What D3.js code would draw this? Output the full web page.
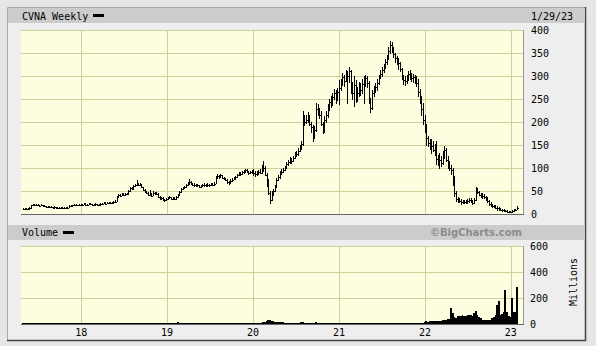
<!DOCTYPE html>
<html>
<head>
<meta charset="utf-8">
<script src="https://cdn.jsdelivr.net/npm/d3@7"></script>
<style>
  body { margin: 0; background: #e6e6e6; }
  svg { display: block; }
  text { font-family: "DejaVu Sans Mono", monospace; font-size: 10px; fill: #000; }
</style>
</head>
<body>
<div id="chart"></div>
<script>
// weekly bars, the first one is the week ending 2017-04-28
const firstWeek = "2017-04-28";
const chartTitle = "CVNA Weekly";
const lastDateLabel = "1/29/23";
const yearLabels = ["18", "19", "20", "21", "22", "23"];
const priceTicks = [0, 50, 100, 150, 200, 250, 300, 350, 400];
const volumeTicks = [0, 200, 400, 600];

const weekHigh = [
  // 2017
  12.5, 12.0, 12.5, 12.3, 13.5, 19.5, 21.0, 21.5, 20.5, 19.8,
  19.2, 19.8, 19.0, 17.5, 16.8, 15.5, 16.2, 16.0, 15.2, 15.3,
  14.8, 14.5, 14.0, 13.8, 13.8, 13.5, 13.8, 14.3, 17.5, 18.2,
  19.3, 21.0, 20.5, 19.5, 20.2, 21.0,
  // 2018
  21.5, 22.0, 21.8, 21.2, 22.3, 22.5, 21.2, 21.5, 22.0, 21.2,
  21.0, 22.0, 23.2, 24.5, 24.0, 24.2, 25.2, 26.0, 26.0, 27.2,
  28.5, 39.0, 43.0, 42.0, 44.0, 43.5, 44.5, 45.5, 51.5, 57.5,
  57.0, 62.0, 65.0, 72.0, 67.0, 66.0, 64.0, 58.5, 53.0, 49.0,
  46.0, 52.0, 45.0, 48.5, 47.5, 46.5, 43.5, 38.5, 36.0, 35.0,
  32.0, 34.0,
  // 2019
  36.5, 38.0, 36.5, 36.0, 35.0, 38.5, 43.0, 50.0, 55.5, 58.0,
  60.0, 64.0, 68.0, 74.0, 71.0, 67.0, 66.0, 64.0, 65.0, 63.0,
  62.0, 64.0, 65.5, 64.0, 66.0, 65.0, 66.0, 65.5, 68.0, 81.0,
  85.0, 83.0, 86.0, 84.0, 80.0, 78.0, 75.0, 71.0, 74.0, 77.0,
  79.0, 82.0, 86.0, 90.0, 90.0, 93.0, 95.0, 97.0, 96.0, 93.0,
  93.0, 95.0,
  // 2020
  97, 93, 92, 95, 96, 106, 114, 103, 88, 74,
  50, 48, 54, 63, 78, 84, 92, 96, 100, 104,
  112, 117, 122, 121, 126, 133, 136, 142, 148, 158,
  222, 215, 214, 220, 214, 200, 192, 190, 241, 238,
  230, 222, 200, 212, 222, 238, 250, 255, 262, 270,
  268, 272,
  // 2021
  290, 292, 305, 302, 312, 310, 318, 312, 285, 300,
  290, 275, 285, 284, 292, 300, 302, 300, 288, 252,
  268, 278, 283, 292, 302, 312, 318, 326, 335, 345,
  362, 376, 372, 362, 350, 342, 338, 330, 316, 302,
  298, 302, 310, 312, 305, 304, 302, 298, 292, 270,
  255, 240,
  // 2022
  215, 195, 168, 162, 161, 158, 152, 157, 128, 132,
  124, 135, 146, 142, 124, 115, 105, 98, 81, 48,
  36, 34, 32, 30, 30, 29, 31, 34, 33, 29,
  33, 58, 56, 50, 44, 44, 42, 38, 36, 30,
  24, 21, 19, 18, 16, 15, 12, 10, 9, 8,
  7, 6, 5.5,
  // 2023
  7, 9, 10.5, 16
];

const weekLow = [
  // 2017
  10.5, 10.2, 10.8, 10.9, 11.3, 12.3, 18.2, 19.0, 18.2, 17.8,
  17.2, 17.5, 17.2, 16.0, 14.8, 14.0, 14.3, 14.7, 13.8, 13.8,
  13.4, 13.0, 12.6, 12.2, 12.3, 12.0, 12.2, 12.8, 13.2, 16.2,
  17.2, 18.2, 18.6, 17.8, 18.0, 19.0,
  // 2018
  19.5, 20.0, 19.8, 19.0, 19.8, 20.5, 19.5, 19.8, 20.2, 19.0,
  19.2, 19.8, 20.8, 22.0, 22.0, 22.2, 23.0, 24.0, 23.8, 24.3,
  25.8, 27.0, 37.5, 39.0, 40.0, 40.5, 41.0, 42.5, 44.0, 50.0,
  52.5, 54.0, 59.5, 62.5, 62.0, 61.5, 57.0, 51.0, 46.5, 43.5,
  40.5, 41.0, 38.5, 39.5, 43.0, 42.0, 37.0, 32.0, 32.0, 29.5,
  28.0, 29.0,
  // 2019
  31.0, 33.0, 32.0, 32.0, 30.5, 32.0, 36.0, 41.0, 47.0, 53.0,
  55.0, 57.0, 61.0, 65.0, 65.0, 61.0, 60.0, 59.0, 60.0, 57.5,
  57.5, 59.0, 60.5, 59.5, 60.0, 60.0, 61.0, 61.5, 62.0, 66.0,
  77.0, 77.0, 79.0, 77.5, 75.0, 72.0, 66.0, 65.0, 67.0, 71.0,
  74.0, 76.0, 79.0, 83.0, 84.0, 86.0, 89.0, 91.0, 90.0, 86.0,
  87.0, 89.0,
  // 2020
  83, 82, 84, 86, 87, 89, 92, 84, 59, 42,
  22, 30, 40, 48, 58, 73, 78, 86, 90, 94,
  99, 106, 110, 110, 114, 120, 125, 128, 136, 140,
  150, 192, 196, 200, 193, 178, 157, 165, 180, 215,
  208, 192, 175, 178, 200, 210, 226, 232, 236, 248,
  240, 246,
  // 2021
  238, 268, 280, 278, 288, 240, 285, 262, 250, 233,
  242, 245, 255, 258, 262, 240, 278, 276, 240, 220,
  228, 256, 264, 268, 282, 294, 300, 308, 316, 326,
  336, 350, 352, 340, 330, 324, 315, 310, 292, 282,
  280, 284, 290, 292, 288, 286, 284, 278, 255, 240,
  215, 195,
  // 2022
  178, 150, 146, 140, 132, 136, 128, 108, 106, 100,
  104, 108, 120, 115, 100, 95, 86, 63, 38, 27,
  25, 24, 21, 22, 23, 22, 24, 26, 24, 21,
  22, 30, 44, 40, 35, 34, 33, 30, 26, 19,
  17, 15, 14, 12, 8, 8, 7, 6.5, 6, 5,
  4, 3.5, 3.5,
  // 2023
  3.8, 6, 7.5, 9.5
];

const weekClose = [
  // 2017
  11.5, 11.0, 11.8, 11.5, 12.5, 18.5, 19.5, 20.0, 19.0, 18.5,
  18.0, 19.0, 17.5, 16.5, 15.0, 14.5, 15.5, 15.0, 14.0, 14.5,
  14.0, 13.5, 13.2, 12.8, 13.0, 12.5, 13.0, 13.5, 16.5, 17.5,
  18.5, 20.0, 19.0, 18.5, 19.5, 20.0,
  // 2018
  20.5, 21.0, 20.5, 20.0, 21.5, 21.0, 20.0, 20.5, 21.0, 19.5,
  20.0, 21.0, 22.0, 23.5, 22.5, 23.0, 24.0, 25.0, 24.5, 26.0,
  27.0, 38.0, 41.0, 40.0, 42.5, 41.5, 43.0, 44.0, 50.0, 56.0,
  54.0, 60.0, 63.0, 66.0, 63.0, 64.0, 58.0, 52.0, 48.0, 45.0,
  42.0, 44.0, 40.0, 46.0, 45.0, 43.0, 38.0, 33.0, 34.0, 31.0,
  29.5, 32.5,
  // 2019
  34.0, 36.0, 33.0, 34.5, 32.0, 37.0, 41.0, 48.0, 54.0, 56.0,
  58.0, 62.0, 66.0, 70.0, 67.0, 64.0, 63.0, 61.0, 63.0, 59.0,
  60.0, 62.0, 63.0, 61.0, 64.0, 62.0, 64.0, 63.0, 66.0, 79.0,
  82.0, 80.0, 84.0, 79.0, 77.0, 74.0, 70.0, 67.0, 72.0, 75.0,
  77.0, 80.0, 84.0, 88.0, 87.0, 91.0, 93.0, 95.0, 92.0, 89.0,
  91.0, 92.0,
  // 2020
  90, 86, 88, 92, 90, 102, 100, 85, 70, 45,
  30, 42, 50, 60, 74, 80, 88, 92, 96, 100,
  108, 112, 117, 115, 122, 128, 130, 138, 143, 152,
  210, 200, 205, 212, 195, 190, 170, 182, 228, 225,
  215, 195, 180, 205, 215, 230, 244, 240, 255, 262,
  250, 265,
  // 2021
  275, 282, 298, 290, 305, 300, 310, 270, 262, 280,
  255, 262, 273, 270, 283, 290, 295, 285, 245, 230,
  262, 270, 277, 285, 298, 305, 312, 322, 330, 340,
  355, 368, 360, 348, 340, 332, 328, 315, 300, 292,
  290, 295, 305, 300, 296, 298, 292, 285, 265, 250,
  228, 205,
  // 2022
  190, 165, 155, 150, 148, 140, 135, 120, 112, 117,
  110, 125, 140, 118, 110, 100, 95, 75, 45, 32,
  30, 28, 26, 24, 27, 25, 28, 30, 27, 24,
  30, 52, 48, 42, 38, 40, 36, 33, 28, 22,
  19, 17, 16, 14, 12, 10, 9, 8, 7, 6,
  5, 4.5, 4.5,
  // 2023
  6.5, 8, 9, 13.5
];

// weekly volume, millions of shares
const weekVolume = [
  // 2017
  8, 5, 4, 3, 3, 5, 4, 3, 3, 2,
  2, 3, 2, 2, 2, 3, 2, 2, 2, 2,
  3, 2, 2, 2, 3, 2, 2, 3, 4, 3,
  3, 2, 2, 2, 3, 2,
  // 2018
  3, 3, 3, 4, 3, 3, 4, 3, 3, 3,
  3, 3, 4, 3, 3, 3, 3, 4, 4, 3,
  4, 9, 6, 5, 4, 5, 5, 4, 6, 7,
  5, 6, 6, 7, 5, 5, 7, 8, 8, 7,
  6, 10, 8, 7, 6, 7, 8, 9, 7, 6,
  6, 7,
  // 2019
  8, 7, 8, 7, 9, 8, 12, 9, 8, 7,
  7, 6, 7, 8, 7, 6, 6, 7, 6, 6,
  5, 5, 6, 5, 5, 5, 6, 5, 6, 10,
  8, 6, 6, 5, 5, 6, 6, 7, 6, 6,
  7, 7, 6, 8, 7, 6, 6, 7, 6, 5,
  5, 5,
  // 2020
  6, 6, 7, 8, 7, 9, 12, 14, 22, 30,
  34, 26, 20, 16, 15, 13, 14, 12, 12, 11,
  10, 11, 10, 9, 10, 10, 9, 9, 8, 12,
  16, 10, 9, 8, 9, 8, 11, 10, 12, 9,
  8, 8, 9, 10, 8, 8, 7, 8, 7, 6,
  5, 6,
  // 2021
  7, 6, 6, 7, 6, 6, 7, 8, 7, 8,
  7, 6, 6, 6, 6, 6, 6, 6, 8, 9,
  6, 5, 5, 5, 5, 5, 5, 4, 5, 5,
  5, 6, 5, 5, 4, 4, 5, 4, 5, 5,
  4, 4, 5, 4, 4, 5, 4, 5, 6, 7,
  8, 9,
  // 2022
  17, 20, 18, 20, 22, 24, 22, 26, 25, 24,
  26, 28, 30, 32, 35, 40, 120, 85, 56, 50,
  60, 62, 64, 66, 60, 64, 68, 70, 66, 64,
  82, 100, 70, 56, 45, 32, 30, 28, 30, 32,
  30, 45, 56, 70, 150, 180, 70, 80, 90, 262,
  95, 60, 56,
  // 2023
  198, 95, 90, 287
];

const width = 596, height = 346;
const plotLeft = 21, plotRight = 523;
const price = { top: 30, bottom: 214 };
const vol = { top: 246, bottom: 324 };

const start = d3.timeParse("%Y-%m-%d")(firstWeek);
const weeks = weekClose.map((c, i) => ({
  date: d3.timeWeek.offset(start, i),
  high: weekHigh[i],
  low: weekLow[i],
  close: c,
  volume: weekVolume[i]
}));

const x = d3.scaleTime()
  .domain([new Date(2017, 3, 20), new Date(2023, 1, 22)])
  .range([plotLeft, plotRight]);
const yPrice = d3.scaleLinear().domain([0, 400]).range([price.bottom, price.top]);
const yVol = d3.scaleLinear().domain([0, 600]).range([vol.bottom, vol.top]);

const yearStarts = yearLabels.map(s => new Date(2000 + (+s), 0, 1));
const crisp = v => Math.round(v) + 0.5;

const svg = d3.select("#chart").append("svg")
  .attr("width", width)
  .attr("height", height);

// frame
svg.append("rect").attr("width", width).attr("height", height).attr("fill", "#e6e6e6");
svg.append("rect")
  .attr("x", 7).attr("y", 7).attr("width", 578).attr("height", 333)
  .attr("fill", "#eeeeee");
svg.append("path")
  .attr("d", "M7.5,340V7.5H585")
  .attr("fill", "none").attr("stroke", "#a8a8a8");
svg.append("path")
  .attr("d", "M585.5,7V340.5H7")
  .attr("fill", "none").attr("stroke", "#444").attr("stroke-width", 1.5);

// header bands
svg.append("rect").attr("x", 8).attr("y", 8).attr("width", 577).attr("height", 15).attr("fill", "#cccccc");
svg.append("rect").attr("x", 8).attr("y", 225).attr("width", 577).attr("height", 15).attr("fill", "#cccccc");

svg.append("text").attr("x", 22).attr("y", 20).text(chartTitle);
svg.append("rect").attr("x", 93).attr("y", 14).attr("width", 11).attr("height", 3).attr("fill", "#000");
svg.append("text").attr("x", 531).attr("y", 20).text(lastDateLabel);

svg.append("text").attr("x", 22).attr("y", 236).text("Volume");
svg.append("rect").attr("x", 63).attr("y", 231).attr("width", 11).attr("height", 3).attr("fill", "#000");
svg.append("text")
  .attr("x", 522).attr("y", 236)
  .attr("text-anchor", "end")
  .style("font-family", "'DejaVu Sans', sans-serif")
  .style("font-weight", "bold")
  .style("font-size", "10px")
  .style("fill", "#8c8c8c")
  .text("\u00A9BigCharts.com");

// panels
function panel(p, yScale, ticks) {
  const g = svg.append("g");
  g.append("rect")
    .attr("x", plotLeft).attr("y", p.top)
    .attr("width", plotRight - plotLeft).attr("height", p.bottom - p.top)
    .attr("fill", "#fdfde0");
  g.selectAll(".hgrid").data(ticks).enter().append("line")
    .attr("x1", plotLeft).attr("x2", plotRight)
    .attr("y1", d => crisp(yScale(d))).attr("y2", d => crisp(yScale(d)))
    .attr("stroke", "#cfcf9c");
  g.selectAll(".vgrid").data(yearStarts).enter().append("line")
    .attr("x1", d => crisp(x(d))).attr("x2", d => crisp(x(d)))
    .attr("y1", p.top).attr("y2", p.bottom)
    .attr("stroke", "#cfcf9c");
  return g;
}

panel(price, yPrice, priceTicks);
panel(vol, yVol, volumeTicks);

// price bars (high-low with close tick)
const bars = svg.append("g")
  .attr("stroke", "#000")
  .attr("shape-rendering", "crispEdges");
bars.selectAll(".hl").data(weeks).enter().append("line")
  .attr("x1", d => crisp(x(d.date))).attr("x2", d => crisp(x(d.date)))
  .attr("y1", d => yPrice(d.low) + 0.5).attr("y2", d => yPrice(d.high) - 0.5);
bars.selectAll(".cl").data(weeks).enter().append("line")
  .attr("x1", d => crisp(x(d.date)) - 1).attr("x2", d => crisp(x(d.date)) + 1.5)
  .attr("y1", d => crisp(yPrice(d.close))).attr("y2", d => crisp(yPrice(d.close)));

// volume bars
svg.append("g")
  .attr("fill", "#000")
  .attr("shape-rendering", "crispEdges")
  .selectAll("rect").data(weeks).enter().append("rect")
  .attr("x", d => x(d.date) - 0.9)
  .attr("width", 1.8)
  .attr("y", d => Math.min(yVol(d.volume), vol.bottom - 1))
  .attr("height", d => Math.max(1, vol.bottom - yVol(d.volume)));

// panel borders
[price, vol].forEach(p => {
  svg.append("line")
    .attr("x1", plotLeft).attr("x2", plotRight + 1)
    .attr("y1", p.bottom + 0.5).attr("y2", p.bottom + 0.5)
    .attr("stroke", "#666");
  svg.append("line")
    .attr("x1", plotRight + 0.5).attr("x2", plotRight + 0.5)
    .attr("y1", p.top).attr("y2", p.bottom)
    .attr("stroke", "#999");
});

// right axes
svg.append("g").selectAll("text").data(priceTicks).enter().append("text")
  .attr("x", 531).attr("y", d => yPrice(d) + 3.5)
  .text(d => d);
svg.append("g").selectAll("text").data(volumeTicks).enter().append("text")
  .attr("x", 530).attr("y", d => yVol(d) + 3.5)
  .text(d => d);
svg.append("text")
  .attr("transform", "translate(577,282) rotate(-90)")
  .attr("text-anchor", "middle")
  .text("Millions");

// year labels
svg.append("g").selectAll("text").data(yearStarts).enter().append("text")
  .attr("x", d => x(d)).attr("y", 336)
  .attr("text-anchor", "middle")
  .text((d, i) => yearLabels[i]);
</script>
</body>
</html>
